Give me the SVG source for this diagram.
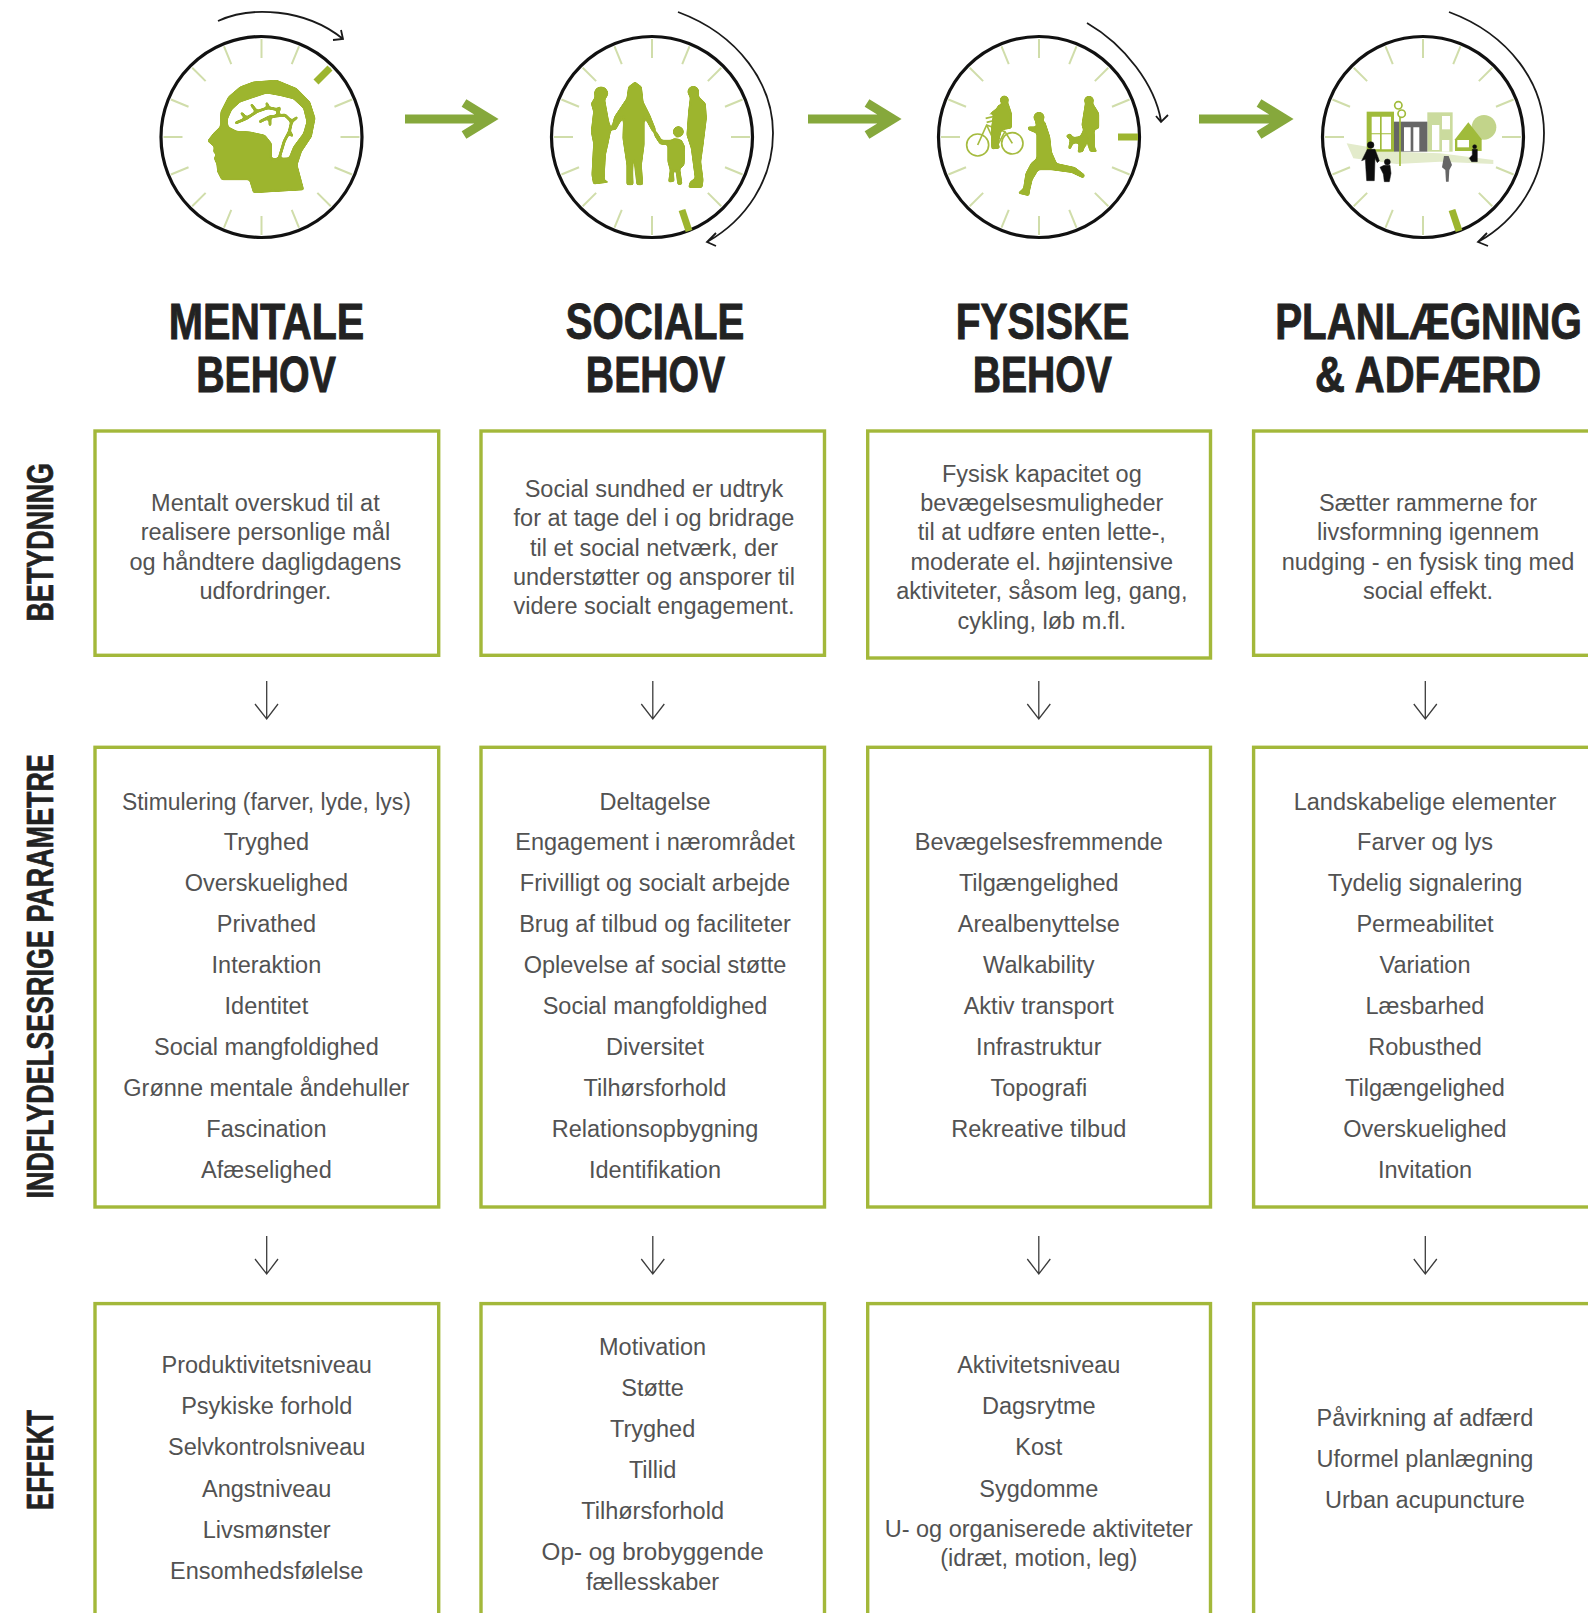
<svg xmlns="http://www.w3.org/2000/svg" xmlns:xlink="http://www.w3.org/1999/xlink" width="1588" height="1613" viewBox="0 0 1588 1613">
<style>
.box{fill:#fff;stroke:#a3b83a;stroke-width:3.4}
.t{font-family:"Liberation Sans",Arial,sans-serif;font-size:23.5px;fill:#525252;text-anchor:middle}
.h{font-family:"Liberation Sans",Arial,sans-serif;font-weight:700;font-size:50px;fill:#222;stroke:#222;stroke-width:.9;text-anchor:middle}
.s{font-family:"Liberation Sans",Arial,sans-serif;font-weight:700;font-size:37px;fill:#222;stroke:#222;stroke-width:.6}
.tick{stroke:#d0ddaa;stroke-width:2;fill:none}
.ring{fill:none;stroke:#111;stroke-width:3.2}
.mark{stroke:#9db52f;stroke-width:7;fill:none}
.orbit{fill:none;stroke:#1a1a1a;stroke-width:1.8}
.ga{fill:none;stroke:#86a83c;stroke-width:9}
.da{fill:none;stroke:#3c3c3c;stroke-width:1.3}
.ic{fill:#9db52f;stroke:#9db52f;stroke-width:1.5;stroke-linejoin:round}
.vein{fill:none;stroke:#9db52f;stroke-width:9;stroke-linejoin:round;stroke-linecap:round}
.bk{fill:#111;stroke:#111;stroke-width:1.5;stroke-linejoin:round}
</style>
<defs>
<filter id="soft" x="-5%" y="-5%" width="110%" height="110%"><feGaussianBlur stdDeviation="1.3"/></filter>
<filter id="rnd" x="-5%" y="-5%" width="110%" height="110%"><feGaussianBlur stdDeviation="3.2"/><feComponentTransfer><feFuncA type="linear" slope="5" intercept="-1.9"/></feComponentTransfer></filter>
<g id="dial">
<g class="tick">
<line x1="0" y1="-79" x2="0" y2="-98"/><line x1="0" y1="-79" x2="0" y2="-98" transform="rotate(22.5)"/><line x1="0" y1="-79" x2="0" y2="-98" transform="rotate(45)"/><line x1="0" y1="-79" x2="0" y2="-98" transform="rotate(67.5)"/><line x1="0" y1="-79" x2="0" y2="-98" transform="rotate(90)"/><line x1="0" y1="-79" x2="0" y2="-98" transform="rotate(112.5)"/><line x1="0" y1="-79" x2="0" y2="-98" transform="rotate(135)"/><line x1="0" y1="-79" x2="0" y2="-98" transform="rotate(157.5)"/><line x1="0" y1="-79" x2="0" y2="-98" transform="rotate(180)"/><line x1="0" y1="-79" x2="0" y2="-98" transform="rotate(202.5)"/><line x1="0" y1="-79" x2="0" y2="-98" transform="rotate(225)"/><line x1="0" y1="-79" x2="0" y2="-98" transform="rotate(247.5)"/><line x1="0" y1="-79" x2="0" y2="-98" transform="rotate(270)"/><line x1="0" y1="-79" x2="0" y2="-98" transform="rotate(292.5)"/><line x1="0" y1="-79" x2="0" y2="-98" transform="rotate(315)"/><line x1="0" y1="-79" x2="0" y2="-98" transform="rotate(337.5)"/>
</g>
</g>
</defs>
<rect width="1588" height="1613" fill="#fff"/>

<g id="connectors">
<g id="green-arrows" class="ga">
<path d="M405 119H490M464 103L490 119L464 135"/>
<path d="M808 119H893M867 103L893 119L867 135"/>
<path d="M1199 119H1285M1259 103L1285 119L1259 135"/>
</g>
<g id="orbits" class="orbit">
<path d="M218 21C250 6 305 8 343 39M333 40L343 39L341 30"/>
<path d="M678 12C740 35 773 85 773 133C773 180 746 220 707 242M716 233L707 242L716 246"/>
<path d="M1087 23C1125 45 1155 85 1161 121M1156 116L1161 122L1168 115"/>
<path d="M1449 12C1511 35 1544 85 1544 133C1544 180 1517 220 1478 242M1487 233L1478 242L1488 246"/>
</g>
<g id="down-arrows" class="da">
<path d="M266.7 681V719M255 704L266.7 719L278 704"/>
<path d="M652.8 681V719M641.3 704L652.8 719L664.3 704"/>
<path d="M1038.8 681V719M1027.3 704L1038.8 719L1050.3 704"/>
<path d="M1425.3 681V719M1413.8 704L1425.3 719L1436.8 704"/>
<path d="M266.7 1236V1274M255 1259L266.7 1274L278 1259"/>
<path d="M652.8 1236V1274M641.3 1259L652.8 1274L664.3 1259"/>
<path d="M1038.8 1236V1274M1027.3 1259L1038.8 1274L1050.3 1259"/>
<path d="M1425.3 1236V1274M1413.8 1259L1425.3 1274L1436.8 1259"/>
</g>
</g>

<g id="icon-mentale">
<use xlink:href="#dial" href="#dial" x="261.5" y="137"/>
<circle class="ring" cx="261.5" cy="137" r="100.5"/>
<line class="mark" x1="316" y1="82" x2="330" y2="68"/>
<g transform="translate(190 65) scale(.3333)" filter="url(#rnd)">
<path class="ic" fill-rule="evenodd" d="M90 185L92 140L115 95L150 65L190 50L260 45L320 70L360 110L376 160L365 215L335 260L322 300L342 375L190 384L178 345L95 345L82 320L80 298L72 280L78 268L70 262L72 245L52 228L70 205ZM112 165L125 135L150 112L185 100L230 85L270 92L310 102L340 130L350 170L340 205L310 245L297 278L245 280L245 235L225 210L180 200L140 198L115 185Z"/>
<path class="vein" d="M138 174L170 160L200 140L235 128L268 135M185 120L200 140M155 145L170 160M210 170L240 155L285 150L305 170L298 200L283 228L268 278M230 115L235 128M240 155L240 180M268 128L262 150M320 158L305 170M298 200L306 212"/>
</g>
</g>

<g id="icon-sociale">
<use xlink:href="#dial" href="#dial" x="652" y="137"/>
<circle class="ring" cx="652" cy="137" r="100.5"/>
<line class="mark" x1="682" y1="210" x2="689" y2="231"/>
<g transform="translate(575 65) scale(.3333)" filter="url(#rnd)" class="ic">
<circle cx="78" cy="85" r="20"/>
<path d="M65 70L90 68L100 85L90 105L100 160L108 195L100 235L92 270L88 345L105 352L55 358L50 330L55 235L48 200L55 140L48 115L58 100Z"/>
<path d="M180 50L200 65L205 110L225 150L243 195L232 200L208 155L208 240L200 300L204 360L185 360L178 290L172 290L175 360L155 360L155 300L143 220L145 155L122 195L108 195L118 155L155 100L160 65Z"/>
<circle cx="310" cy="200" r="16"/>
<path d="M295 220L320 225L330 245L328 300L315 312L322 358L308 360L303 318L295 318L298 350L280 352L285 315L278 290L278 240L255 238L240 215L235 200L245 200L260 225L290 225Z"/>
<circle cx="355" cy="80" r="17"/>
<path d="M340 75L365 70L372 95L392 115L395 160L385 240L378 290L385 345L382 368L340 368L345 350L360 340L348 250L335 210L340 140L345 100Z"/>
</g>
</g>

<g id="icon-fysiske">
<use xlink:href="#dial" href="#dial" x="1039" y="137"/>
<circle class="ring" cx="1039" cy="137" r="100.5"/>
<line class="mark" x1="1118" y1="137" x2="1138" y2="137"/>
<g transform="translate(955 80) scale(.3333)">
<g fill="none" stroke="#a5bb3e" stroke-width="5">
<circle cx="68" cy="195" r="33"/><circle cx="172" cy="190" r="32"/>
<path d="M68 195L95 135L150 155L172 190M95 135L125 200L150 155M92 115L135 105M95 127L135 117"/>
</g>
<g class="ic" filter="url(#rnd)">
<circle cx="148" cy="60" r="13"/>
<path d="M130 75L160 70L170 100L170 145L140 150L130 190L135 205L110 208L108 150L115 100L95 108L125 85Z"/>
<circle cx="252" cy="112" r="16"/>
<path d="M240 125L270 125L285 170L290 215L305 250L360 262L390 285L385 295L350 278L290 270L250 270L232 300L225 330L222 348L188 340L205 325L212 280L228 250L245 235L245 160L220 150L218 140L245 140Z"/>
<circle cx="402" cy="62" r="14"/>
<path d="M390 72L415 72L432 100L432 145L418 150L420 205L428 215L405 215L400 200L395 160L385 215L368 218L375 170L385 150L380 135Z"/>
<path d="M332 168L345 160L355 172L385 168L395 175L392 200L385 205L375 190L355 190L345 210L340 205L345 180Z"/>
</g>
</g>
</g>

<g id="icon-planlaegning">
<use xlink:href="#dial" href="#dial" x="1423" y="137"/>
<circle class="ring" cx="1423" cy="137" r="100.5"/>
<line class="mark" x1="1452" y1="210" x2="1459" y2="231"/>
<g transform="translate(1340 90) scale(.3333)" filter="url(#soft)">
<path fill="#e3ebcb" d="M20 160L170 185L300 190L460 210V222L300 215L170 222L40 205Z"/>
<circle cx="432" cy="112" r="37" fill="#c2d48a"/>
<rect x="262" y="67" width="76" height="118" fill="#cbdb9e"/>
<rect x="306" y="78" width="24" height="40" fill="#fff"/>
<rect x="276" y="105" width="22" height="75" fill="#fff"/>
<rect x="306" y="150" width="22" height="35" fill="#fff"/>
<rect x="80" y="65" width="82" height="120" fill="#a0bb3a"/>
<path fill="#fff" d="M95 80h25v50H95zM125 80h28v50H125zM95 133h25v45H95zM125 133h28v45H125z"/>
<rect x="162" y="95" width="100" height="90" fill="#666"/>
<path fill="#fff" d="M192 112h20v72H192zM220 112h18v72H220z"/>
<g fill="none" stroke="#a0bb3a" stroke-width="5"><path d="M180 80V228"/><circle cx="175" cy="46" r="11"/><circle cx="185" cy="71" r="11"/></g>
<path fill="#a0bb3a" d="M345 148L385 97L425 148V183H345Z"/>
<rect x="352" y="150" width="35" height="22" fill="#fff"/>
<g class="bk">
<circle cx="92" cy="165" r="10"/>
<path d="M82 178L105 178L118 212L112 218L105 205L103 272L80 272L76 208L65 212Z"/>
<circle cx="142" cy="216" r="9"/>
<path d="M132 226L150 226L153 250L148 275L133 275L130 252L120 232Z"/>
<circle cx="404" cy="170" r="6"/>
<path d="M397 178L412 178L412 215L395 215L388 205L397 195Z"/>
</g>
<path fill="#666" d="M312 198L326 198L336 225L328 240L326 275L318 275L316 240L306 232Z"/>
</g>
</g>

<g id="head-mentale"><text class="h" transform="translate(266.5 339) scale(.822 1)">MENTALE</text><text class="h" transform="translate(266 391.5) scale(.786 1)">BEHOV</text></g>
<g id="head-sociale"><text class="h" transform="translate(655 339) scale(.804 1)">SOCIALE</text><text class="h" transform="translate(655.5 391.5) scale(.784 1)">BEHOV</text></g>
<g id="head-fysiske"><text class="h" transform="translate(1042.5 339) scale(.811 1)">FYSISKE</text><text class="h" transform="translate(1042.3 391.5) scale(.784 1)">BEHOV</text></g>
<g id="head-planlaegning"><text class="h" transform="translate(1428.5 339) scale(.806 1)">PLANLÆGNING</text><text class="h" transform="translate(1428 391.5) scale(.828 1)">&amp; ADFÆRD</text></g>

<g id="side-betydning"><text class="s" transform="translate(52.5 621.5) rotate(-90)" textLength="158.5" lengthAdjust="spacingAndGlyphs">BETYDNING</text></g>
<g id="side-parametre"><text class="s" transform="translate(52.5 1198.5) rotate(-90)" textLength="444.5" lengthAdjust="spacingAndGlyphs">INDFLYDELSESRIGE PARAMETRE</text></g>
<g id="side-effekt"><text class="s" transform="translate(52.5 1510) rotate(-90)" textLength="100" lengthAdjust="spacingAndGlyphs">EFFEKT</text></g>

<g id="betydning-mentale"><rect class="box" x="95" y="431" width="343.7" height="224.3"/>
<text class="t" x="265.4" y="510.7">Mentalt overskud til at</text><text class="t" x="265.4" y="540">realisere personlige mål</text><text class="t" x="265.4" y="569.5">og håndtere dagligdagens</text><text class="t" x="265.4" y="599">udfordringer.</text></g>
<g id="betydning-sociale"><rect class="box" x="481" y="431" width="343.5" height="224.3"/>
<text class="t" x="654" y="496.5">Social sundhed er udtryk</text><text class="t" x="654" y="526">for at tage del i og bridrage</text><text class="t" x="654" y="555.5">til et social netværk, der</text><text class="t" x="654" y="585">understøtter og ansporer til</text><text class="t" x="654" y="614.3">videre socialt engagement.</text></g>
<g id="betydning-fysiske"><rect class="box" x="867.7" y="431" width="342.8" height="227"/>
<text class="t" x="1041.8" y="481.6">Fysisk kapacitet og</text><text class="t" x="1041.8" y="511">bevægelsesmuligheder</text><text class="t" x="1041.8" y="540">til at udføre enten lette-,</text><text class="t" x="1041.8" y="569.8">moderate el. højintensive</text><text class="t" x="1041.8" y="598.8">aktiviteter, såsom leg, gang,</text><text class="t" x="1041.8" y="628.6">cykling, løb m.fl.</text></g>
<g id="betydning-planlaegning"><rect class="box" x="1253.6" y="431" width="380" height="224.3"/>
<text class="t" x="1428" y="510.7">Sætter rammerne for</text><text class="t" x="1428" y="540">livsformning igennem</text><text class="t" x="1428" y="569.5">nudging - en fysisk ting med</text><text class="t" x="1428" y="599">social effekt.</text></g>

<g id="parametre-mentale"><rect class="box" x="95" y="747.3" width="343.7" height="459.7"/>
<text class="t" x="266.4" y="809.5" textLength="289" lengthAdjust="spacingAndGlyphs">Stimulering (farver, lyde, lys)</text><text class="t" x="266.4" y="849.8">Tryghed</text><text class="t" x="266.4" y="890.8">Overskuelighed</text><text class="t" x="266.4" y="932.2">Privathed</text><text class="t" x="266.4" y="973.3">Interaktion</text><text class="t" x="266.4" y="1014.2">Identitet</text><text class="t" x="266.4" y="1055.1">Social mangfoldighed</text><text class="t" x="266.4" y="1096">Grønne mentale åndehuller</text><text class="t" x="266.4" y="1136.9">Fascination</text><text class="t" x="266.4" y="1177.6">Afæselighed</text></g>
<g id="parametre-sociale"><rect class="box" x="481" y="747.3" width="343.5" height="459.7"/>
<text class="t" x="655" y="809.5">Deltagelse</text><text class="t" x="655" y="849.8">Engagement i nærområdet</text><text class="t" x="655" y="890.8">Frivilligt og socialt arbejde</text><text class="t" x="655" y="932.2">Brug af tilbud og faciliteter</text><text class="t" x="655" y="973.3">Oplevelse af social støtte</text><text class="t" x="655" y="1014.2">Social mangfoldighed</text><text class="t" x="655" y="1055.1">Diversitet</text><text class="t" x="655" y="1096">Tilhørsforhold</text><text class="t" x="655" y="1136.9">Relationsopbygning</text><text class="t" x="655" y="1177.6">Identifikation</text></g>
<g id="parametre-fysiske"><rect class="box" x="867.7" y="747.3" width="342.8" height="459.7"/>
<text class="t" x="1038.8" y="849.8">Bevægelsesfremmende</text><text class="t" x="1038.8" y="890.8">Tilgængelighed</text><text class="t" x="1038.8" y="932.2">Arealbenyttelse</text><text class="t" x="1038.8" y="973.3">Walkability</text><text class="t" x="1038.8" y="1014.2">Aktiv transport</text><text class="t" x="1038.8" y="1054.7">Infrastruktur</text><text class="t" x="1038.8" y="1095.7">Topografi</text><text class="t" x="1038.8" y="1136.9">Rekreative tilbud</text></g>
<g id="parametre-planlaegning"><rect class="box" x="1253.6" y="747.3" width="380" height="459.7"/>
<text class="t" x="1425" y="809.5">Landskabelige elementer</text><text class="t" x="1425" y="849.8">Farver og lys</text><text class="t" x="1425" y="890.8">Tydelig signalering</text><text class="t" x="1425" y="932.2">Permeabilitet</text><text class="t" x="1425" y="973.3">Variation</text><text class="t" x="1425" y="1014.2">Læsbarhed</text><text class="t" x="1425" y="1055.1">Robusthed</text><text class="t" x="1425" y="1096">Tilgængelighed</text><text class="t" x="1425" y="1136.9">Overskuelighed</text><text class="t" x="1425" y="1177.6">Invitation</text></g>

<g id="effekt-mentale"><rect class="box" x="95" y="1303.6" width="343.7" height="340"/>
<text class="t" x="266.7" y="1373.3">Produktivitetsniveau</text><text class="t" x="266.7" y="1414.3">Psykiske forhold</text><text class="t" x="266.7" y="1455.3">Selvkontrolsniveau</text><text class="t" x="266.7" y="1496.5">Angstniveau</text><text class="t" x="266.7" y="1537.6">Livsmønster</text><text class="t" x="266.7" y="1578.5">Ensomhedsfølelse</text></g>
<g id="effekt-sociale"><rect class="box" x="481" y="1303.6" width="343.5" height="340"/>
<text class="t" x="652.6" y="1354.8">Motivation</text><text class="t" x="652.6" y="1395.9">Støtte</text><text class="t" x="652.6" y="1437">Tryghed</text><text class="t" x="652.6" y="1478.2">Tillid</text><text class="t" x="652.6" y="1519.3">Tilhørsforhold</text><text class="t" x="652.6" y="1560.2" textLength="222" lengthAdjust="spacingAndGlyphs">Op- og brobyggende</text><text class="t" x="652.6" y="1589.6">fællesskaber</text></g>
<g id="effekt-fysiske"><rect class="box" x="867.7" y="1303.6" width="342.8" height="340"/>
<text class="t" x="1038.8" y="1373.3">Aktivitetsniveau</text><text class="t" x="1038.8" y="1414.3">Dagsrytme</text><text class="t" x="1038.8" y="1455.3">Kost</text><text class="t" x="1038.8" y="1496.5">Sygdomme</text><text class="t" x="1038.8" y="1536.5">U- og organiserede aktiviteter</text><text class="t" x="1038.8" y="1565.6">(idræt, motion, leg)</text></g>
<g id="effekt-planlaegning"><rect class="box" x="1253.6" y="1303.6" width="380" height="340"/>
<text class="t" x="1425" y="1425.8">Påvirkning af adfærd</text><text class="t" x="1425" y="1466.9">Uformel planlægning</text><text class="t" x="1425" y="1508">Urban acupuncture</text></g>
</svg>
